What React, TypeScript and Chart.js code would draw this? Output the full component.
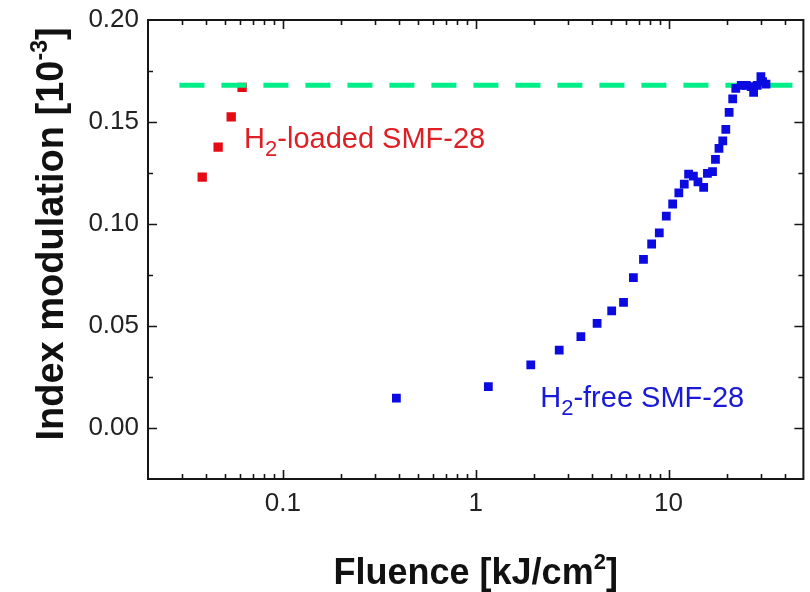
import React, { useEffect, useRef } from "react";
import { Chart, registerables } from "chart.js";
Chart.register(...registerables);

// ---- data ----
const H2_LOADED_FLUENCE = [0.0382, 0.0462, 0.054, 0.0615];
const H2_LOADED_INDEX = [0.123, 0.1377, 0.1525, 0.167];

const H2_FREE_FLUENCE = [
  0.388, 1.163, 1.93, 2.71, 3.51, 4.26, 5.07, 5.84, 6.57, 7.41, 8.17, 8.95, 9.73,
  10.5, 11.3, 12.06, 12.7, 13.45, 14.2, 15.2, 15.9, 16.9, 17.5, 18.25, 19.1, 19.8,
  20.6, 21.5, 22.3, 23.8, 25.3, 26.8, 27.6, 28.8, 30.1, 30.7, 32.0,
];
const H2_FREE_INDEX = [
  0.0146, 0.0203, 0.0309, 0.0382, 0.0448, 0.0513, 0.0574, 0.0616, 0.0737, 0.0827,
  0.0902, 0.0956, 0.1039, 0.1098, 0.1153, 0.1196, 0.1245, 0.1235, 0.1207, 0.118,
  0.1248, 0.1257, 0.1317, 0.1371, 0.1407, 0.1464, 0.1547, 0.1613, 0.1665, 0.168,
  0.168, 0.1673, 0.1645, 0.168, 0.1722, 0.1698, 0.1686,
];

const SATURATION_LEVEL = 0.168;
const SATURATION_FLUENCE = [0.0291, 45.8];

const X_TICKS = [0.1, 1, 10];
const X_TICK_LABELS = ["0.1", "1", "10"];
const Y_TICKS = [0, 0.05, 0.1, 0.15, 0.2];
const Y_TICK_LABELS = ["0.00", "0.05", "0.10", "0.15", "0.20"];
const X_MIN = 0.02;
const X_MAX = 50;
const Y_MIN = -0.025;
const Y_MAX = 0.2;
const Y_MINOR_STEP = 0.025;

const LOADED_LABEL = { x: 0.063, y: 0.1373, pre: "H", sub: "2", post: "-loaded SMF-28" };
const FREE_LABEL = { x: 2.16, y: 0.0103, pre: "H", sub: "2", post: "-free SMF-28" };

const X_TITLE = { main: "Fluence [kJ/cm", sup: "2", end: "]" };
const Y_TITLE = { main: "Index modulation [10", sup: "-3", end: "]" };

const FONT = "'Liberation Sans', Arial, Helvetica, sans-serif";
const RED = "rgb(230,10,20)";
const RED_TEXT = "rgb(222,32,38)";
const BLUE = "rgb(10,10,225)";
const BLUE_TEXT = "rgb(25,25,215)";
const GREEN = "rgb(0,238,136)";

const framePlugin = {
  id: "frame",
  afterDraw(chart: any) {
    const { ctx, chartArea: a, scales } = chart;
    const xs = scales.x;
    const ys = scales.y;
    ctx.save();
    ctx.strokeStyle = "#161616";
    ctx.lineWidth = 2;
    ctx.strokeRect(a.left, a.top, a.right - a.left, a.bottom - a.top);
    ctx.lineWidth = 1.6;
    ctx.beginPath();
    for (let d = -2; d <= 1; d++) {
      for (let m = 1; m <= 9; m++) {
        const v = m * Math.pow(10, d);
        if (v <= X_MIN * 1.0001 || v >= X_MAX * 0.9999) continue;
        const px = Math.round(xs.getPixelForValue(v)) + 0.5;
        const len = m === 1 ? 9 : 5;
        ctx.moveTo(px, a.bottom);
        ctx.lineTo(px, a.bottom - len);
        ctx.moveTo(px, a.top);
        ctx.lineTo(px, a.top + len);
      }
    }
    const n = Math.round((Y_MAX - Y_MIN) / Y_MINOR_STEP);
    for (let i = 1; i < n; i++) {
      const v = Y_MIN + i * Y_MINOR_STEP;
      const major = Math.abs(Math.round(v / 0.05) * 0.05 - v) < 1e-6;
      const py = Math.round(ys.getPixelForValue(v)) + 0.5;
      const len = major ? 9 : 5;
      ctx.moveTo(a.left, py);
      ctx.lineTo(a.left + len, py);
      ctx.moveTo(a.right, py);
      ctx.lineTo(a.right - len, py);
    }
    ctx.stroke();

    // axis titles
    ctx.fillStyle = "#111";
    ctx.textBaseline = "alphabetic";
    const drawTitle = (t: any, cx: number, base: number, size: number) => {
      const big = `bold ${size}px ${FONT}`;
      const small = `bold ${Math.round(size * 0.6)}px ${FONT}`;
      ctx.font = big;
      const w1 = ctx.measureText(t.main).width;
      const w3 = ctx.measureText(t.end).width;
      ctx.font = small;
      const w2 = ctx.measureText(t.sup).width;
      let x = cx - (w1 + w2 + w3) / 2;
      ctx.textAlign = "left";
      ctx.font = big;
      ctx.fillText(t.main, x, base);
      x += w1;
      ctx.font = small;
      ctx.fillText(t.sup, x, base - size * 0.42);
      x += w2;
      ctx.font = big;
      ctx.fillText(t.end, x, base);
    };
    drawTitle(X_TITLE, (a.left + a.right) / 2, 584, 36);
    ctx.save();
    ctx.translate(63, 234);
    ctx.rotate(-Math.PI / 2);
    drawTitle(Y_TITLE, 0, 0, 38);
    ctx.restore();
    ctx.restore();
  },
  afterDatasetsDraw(chart: any) {
    const { ctx, scales } = chart;
    const drawLabel = (l: any, color: string) => {
      const x0 = scales.x.getPixelForValue(l.x);
      const y0 = scales.y.getPixelForValue(l.y);
      ctx.save();
      ctx.fillStyle = color;
      ctx.textAlign = "left";
      ctx.textBaseline = "alphabetic";
      ctx.font = `29px ${FONT}`;
      let x = x0;
      ctx.fillText(l.pre, x, y0);
      x += ctx.measureText(l.pre).width;
      ctx.font = `22px ${FONT}`;
      ctx.fillText(l.sub, x, y0 + 8);
      x += ctx.measureText(l.sub).width;
      ctx.font = `29px ${FONT}`;
      ctx.fillText(l.post, x, y0);
      ctx.restore();
    };
    drawLabel(LOADED_LABEL, RED_TEXT);
    drawLabel(FREE_LABEL, BLUE_TEXT);
  },
};

export default function App() {
  const ref = useRef<HTMLCanvasElement | null>(null);
  useEffect(() => {
    if (!ref.current) return;
    const chart = new Chart(ref.current, {
      type: "scatter",
      data: {
        datasets: [
          {
            label: "H2-free SMF-28",
            data: H2_FREE_FLUENCE.map((x, i) => ({ x, y: H2_FREE_INDEX[i] })),
            pointStyle: "rect",
            pointRadius: 6.2,
            pointBorderWidth: 0,
            backgroundColor: BLUE,
            borderColor: BLUE,
            order: 0,
          },
          {
            label: "saturation",
            data: SATURATION_FLUENCE.map((x) => ({ x, y: SATURATION_LEVEL })),
            showLine: true,
            pointRadius: 0,
            borderColor: GREEN,
            borderWidth: 5,
            borderDash: [25, 17],
            borderCapStyle: "butt",
            order: 1,
          } as any,
          {
            label: "H2-loaded SMF-28",
            data: H2_LOADED_FLUENCE.map((x, i) => ({ x, y: H2_LOADED_INDEX[i] })),
            pointStyle: "rect",
            pointRadius: 6.6,
            pointBorderWidth: 0,
            backgroundColor: RED,
            borderColor: RED,
            order: 2,
          },
        ],
      },
      options: {
        animation: false,
        responsive: false,
        devicePixelRatio: 1,
        layout: { padding: { top: 20, right: 1, left: 0, bottom: 0 } },
        plugins: { legend: { display: false }, tooltip: { enabled: false } },
        scales: {
          x: {
            type: "logarithmic",
            min: X_MIN,
            max: X_MAX,
            grid: { display: false, drawTicks: false },
            border: { display: false },
            afterBuildTicks: (s: any) => {
              s.ticks = X_TICKS.map((v) => ({ value: v }));
            },
            afterFit: (s: any) => {
              s.height = 113;
              s.paddingLeft = 0;
              s.paddingRight = 0;
            },
            ticks: {
              padding: 9,
              color: "#222",
              font: { family: FONT, size: 26 },
              maxRotation: 0,
              autoSkip: false,
              callback: (v: any) => {
                const i = X_TICKS.findIndex((t) => Math.abs(t - v) < 1e-9);
                return i >= 0 ? X_TICK_LABELS[i] : "";
              },
            },
          },
          y: {
            type: "linear",
            min: Y_MIN,
            max: Y_MAX,
            grid: { display: false, drawTicks: false },
            border: { display: false },
            afterBuildTicks: (s: any) => {
              s.ticks = Y_TICKS.map((v) => ({ value: v }));
            },
            afterFit: (s: any) => {
              s.width = 148;
              s.paddingTop = 0;
              s.paddingBottom = 0;
            },
            ticks: {
              padding: 9,
              color: "#222",
              font: { family: FONT, size: 26 },
              autoSkip: false,
              callback: (v: any) => {
                const i = Y_TICKS.findIndex((t) => Math.abs(t - v) < 1e-9);
                return i >= 0 ? Y_TICK_LABELS[i] : "";
              },
            },
          },
        },
      },
      plugins: [framePlugin],
    });
    return () => chart.destroy();
  }, []);
  return (
    <div style={{ position: "fixed", left: 0, top: 0, width: 810, height: 592, background: "#fff" }}>
      <canvas ref={ref} width={810} height={592} />
    </div>
  );
}
